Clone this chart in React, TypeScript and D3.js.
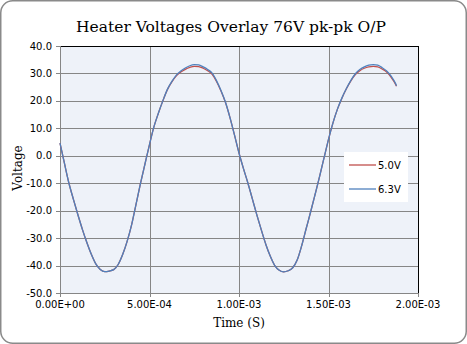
import React from "react";
import * as d3 from "d3";

// sample times in milliseconds
const timeMs = [
  0, 0.025, 0.05, 0.075, 0.1, 0.125, 0.15, 0.175, 0.2, 0.225,
  0.25, 0.275, 0.3, 0.325, 0.35, 0.375, 0.4, 0.425, 0.45, 0.475,
  0.5, 0.525, 0.55, 0.575, 0.6, 0.625, 0.65, 0.675, 0.7, 0.725,
  0.75, 0.775, 0.8, 0.825, 0.85, 0.875, 0.9, 0.925, 0.95, 0.975,
  1.0, 1.025, 1.05, 1.075, 1.1, 1.125, 1.15, 1.175, 1.2, 1.225,
  1.25, 1.275, 1.3, 1.325, 1.35, 1.375, 1.4, 1.425, 1.45, 1.475,
  1.5, 1.525, 1.55, 1.575, 1.6, 1.625, 1.65, 1.675, 1.7, 1.725,
  1.75, 1.775, 1.8, 1.825, 1.85, 1.875, 1.88,
];
// 6.3V heater
const v63 = [
  4.6, -2.8, -10, -15.9, -21.5, -26.8, -31.6, -35.9, -39.4, -41.4,
  -42.2, -42.0, -41.5, -39.6, -36.0, -31.2, -25.2, -17.6, -10, -2.9,
  4.1, 10.6, 15.6, 20.1, 24.2, 27.1, 29.4, 30.9, 32.0, 32.8,
  33.2, 33.1, 32.4, 31.45, 30.1, 27.3, 23.7, 19.4, 13.8, 7.5,
  1.0, -4.7, -10, -15.8, -21.6, -27.1, -32.3, -36.6, -40, -41.7,
  -42.3, -41.9, -40.8, -38.0, -32.8, -26.6, -20.5, -14.1, -7.6, -0.8,
  6.0, 12.0, 17.0, 21.1, 24.5, 27.5, 29.9, 31.4, 32.4, 33.0,
  33.2, 33.0, 32.1, 30.9, 29.0, 26.3, 25.5,
];
// 5.0V heater
const v50 = [
  4.6, -2.8, -10, -15.9, -21.5, -26.8, -31.6, -35.9, -39.4, -41.4,
  -42.2, -42.0, -41.5, -39.6, -36.0, -31.2, -25.2, -17.6, -10, -2.9,
  4.1, 10.6, 15.6, 20.1, 24.1, 26.9, 29.1, 30.5, 31.5, 32.2,
  32.6, 32.5, 31.9, 31.0, 29.7, 27.0, 23.5, 19.3, 13.8, 7.5,
  1.0, -4.7, -10, -15.8, -21.6, -27.1, -32.3, -36.6, -40, -41.7,
  -42.3, -41.9, -40.8, -38.0, -32.8, -26.6, -20.5, -14.1, -7.6, -0.8,
  6.0, 12.0, 17.0, 21.0, 24.4, 27.3, 29.6, 31.0, 31.9, 32.4,
  32.6, 32.4, 31.6, 30.5, 28.6, 26.0, 25.3,
];
const seriesNames = ["5.0V", "6.3V"];
const seriesColors = ["#C0504D", "#4F81BD"];
const xTicks = [0, 5e-4, 1e-3, 1.5e-3, 2e-3];
const yTicks = [40, 30, 20, 10, 0, -10, -20, -30, -40, -50];

const fmtX = (v: number) => {
  if (v === 0) return "0.00E+00";
  const e = Math.floor(Math.log10(Math.abs(v)) + 1e-9);
  const m = v / Math.pow(10, e);
  const es = (e < 0 ? "-" : "+") + String(Math.abs(e)).padStart(2, "0");
  return m.toFixed(2) + "E" + es;
};

export default function App() {
  const W = 467, H = 344;
  const L = 60, R = 418, T = 46, B = 293;
  const x = d3.scaleLinear().domain([0, 2e-3]).range([L, R]);
  const y = d3.scaleLinear().domain([-50, 40]).range([B, T]);
  const cy = (v: number) => Math.round(y(v)) + 0.5;
  const cx = (v: number) => Math.round(x(v)) + 0.5;
  const line = d3
    .line<number>()
    .x((_, i) => x(timeMs[i] / 1000))
    .y((d) => y(d))
    .curve(d3.curveMonotoneX);
  const series = [v50, v63];
  const sans = "'DejaVu Sans', Verdana, sans-serif";
  const serif = "'DejaVu Serif', serif";
  return (
    <svg width={W} height={H} style={{ position: "absolute", left: 0, top: 0 }}>
      <rect x={0.75} y={0.75} width={W - 1.5} height={H - 1.5} rx={12} fill="#fff" stroke="#8a8a8a" strokeWidth={1.5} />
      <text x={231} y={32} textAnchor="middle" fontFamily={serif} fontSize={15.5} fill="#000">
        Heater Voltages Overlay 76V pk-pk O/P
      </text>
      <rect x={L + 0.5} y={T + 0.5} width={R - L} height={B - T} fill="#EEF2F9" />
      {yTicks.filter((t) => t !== 40 && t !== -50).map((t) => (
        <line key={"gy" + t} x1={L} x2={R} y1={cy(t)} y2={cy(t)} stroke="#868686" strokeWidth={1} />
      ))}
      {xTicks.filter((t) => t !== 0 && t !== 2e-3).map((t) => (
        <line key={"gx" + t} x1={cx(t)} x2={cx(t)} y1={T} y2={B} stroke="#868686" strokeWidth={1} />
      ))}
      <line x1={L} x2={R + 0.5} y1={cy(40)} y2={cy(40)} stroke="#000" strokeWidth={1} />
      <line x1={cx(2e-3)} x2={cx(2e-3)} y1={T} y2={B} stroke="#000" strokeWidth={1} />
      <line x1={cx(0)} x2={cx(0)} y1={T} y2={B + 1} stroke="#868686" strokeWidth={1} />
      <line x1={L} x2={R + 1} y1={cy(-50)} y2={cy(-50)} stroke="#868686" strokeWidth={1} />
      {yTicks.map((t) => (
        <g key={"ty" + t}>
          <line x1={L - 4} x2={L} y1={cy(t)} y2={cy(t)} stroke="#868686" />
          <text x={52} y={y(t) + 3.5} textAnchor="end" fontFamily={sans} fontSize={10} fill="#000">
            {t.toFixed(1)}
          </text>
        </g>
      ))}
      {xTicks.map((t) => (
        <g key={"tx" + t}>
          <line x1={cx(t)} x2={cx(t)} y1={B} y2={B + 4} stroke="#868686" />
          <text x={x(t)} y={308} textAnchor="middle" fontFamily={sans} fontSize={10} fill="#000">
            {fmtX(t)}
          </text>
        </g>
      ))}
      {series.map((s, i) => (
        <path key={"s" + i} d={line(s) || ""} fill="none" stroke={seriesColors[i]} strokeWidth={1.3} strokeLinejoin="round" />
      ))}
      <text x={239} y={327} textAnchor="middle" fontFamily={serif} fontSize={12} fill="#000">
        Time (S)
      </text>
      <text transform="translate(22,168) rotate(-90)" textAnchor="middle" fontFamily={serif} fontSize={12} fill="#000">
        Voltage
      </text>
      <rect x={344} y={152} width={64} height={50} fill="#fff" />
      {seriesNames.map((n, i) => (
        <g key={"lg" + i}>
          <line x1={349} x2={376} y1={165 + i * 24} y2={165 + i * 24} stroke={seriesColors[i]} strokeWidth={1.3} />
          <text x={378} y={168.5 + i * 24} fontFamily={sans} fontSize={10} fill="#000">
            {n}
          </text>
        </g>
      ))}
    </svg>
  );
}
